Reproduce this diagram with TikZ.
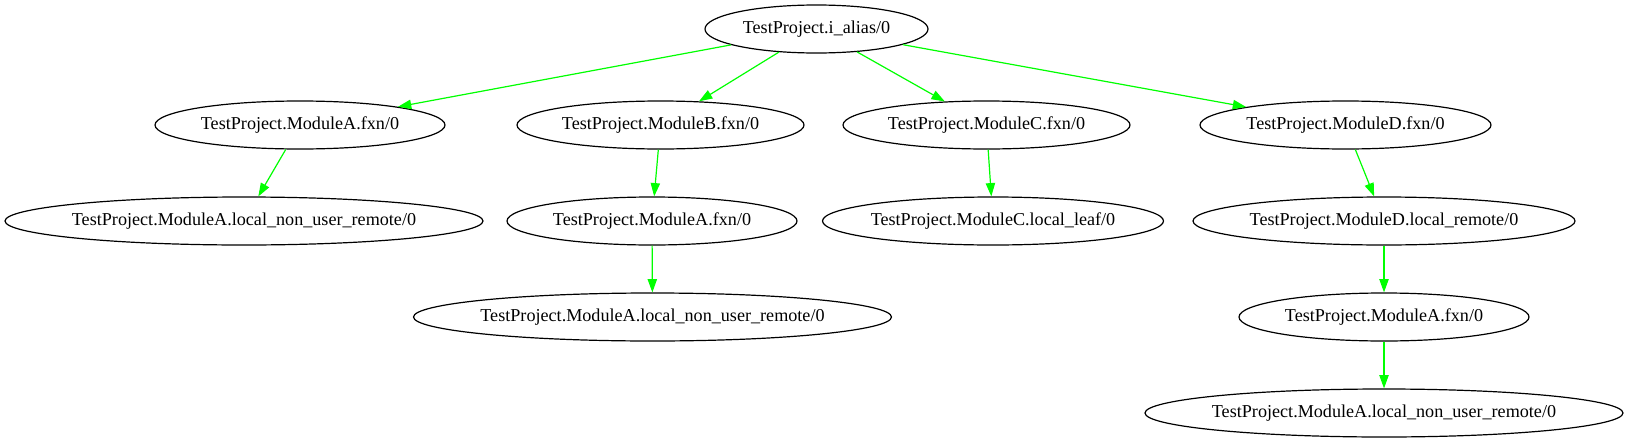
\documentclass[tikz,border=0pt]{standalone}
\usepackage{fontspec}
\setmainfont{Liberation Serif}
\usetikzlibrary{shapes.geometric,arrows.meta}

\begin{document}
\begin{tikzpicture}[x=0.75pt,y=0.75pt,yscale=-1,xscale=1,
		fn/.style={draw, ellipse, line width=0.9pt, inner xsep=-200pt, inner ysep=-50pt, minimum height=36pt, font=\fontsize{13.6pt}{16pt}\selectfont},
		call/.style={color={rgb, 255:red, 0; green, 255; blue, 0 }, line width=0.9pt, -{Triangle[length=10pt,width=7pt]}}]
			\useasboundingbox (0,0) rectangle (1629,443);
			% functions
			\node [fn, minimum width=167.25pt] (alias) at (816.5,29) {TestProject.i\_alias/0};
			\node [fn, minimum width=217.5pt] (fxnA) at (300,125) {TestProject.ModuleA.fxn/0};
			\node [fn, minimum width=215.25pt] (fxnB) at (660.5,125) {TestProject.ModuleB.fxn/0};
			\node [fn, minimum width=215.25pt] (fxnC) at (986.5,125) {TestProject.ModuleC.fxn/0};
			\node [fn, minimum width=218.25pt] (fxnD) at (1345.5,125) {TestProject.ModuleD.fxn/0};
			\node [fn, minimum width=358.5pt] (remoteA) at (244,221) {TestProject.ModuleA.local\_non\_user\_remote/0};
			\node [fn, minimum width=217.5pt] (fxnBA) at (652,221) {TestProject.ModuleA.fxn/0};
			\node [fn, minimum width=255.75pt] (leafC) at (993,221) {TestProject.ModuleC.local\_leaf/0};
			\node [fn, minimum width=286.5pt] (remoteD) at (1384,221) {TestProject.ModuleD.local\_remote/0};
			\node [fn, minimum width=358.5pt] (remoteBA) at (652.5,317) {TestProject.ModuleA.local\_non\_user\_remote/0};
			\node [fn, minimum width=217.5pt] (fxnDA) at (1384,317) {TestProject.ModuleA.fxn/0};
			\node [fn, minimum width=358.5pt] (remoteDA) at (1384,413) {TestProject.ModuleA.local\_non\_user\_remote/0};
			% calls
			\draw [call] (alias) -- (fxnA);
			\draw [call] (alias) -- (fxnB);
			\draw [call] (alias) -- (fxnC);
			\draw [call] (alias) -- (fxnD);
			\draw [call] (fxnA) -- (remoteA);
			\draw [call] (fxnB) -- (fxnBA);
			\draw [call] (fxnC) -- (leafC);
			\draw [call] (fxnD) -- (remoteD);
			\draw [call] (fxnBA) -- (remoteBA);
			\draw [call] (remoteD) -- (fxnDA);
			\draw [call] (fxnDA) -- (remoteDA);
	\end{tikzpicture}
\end{document}
